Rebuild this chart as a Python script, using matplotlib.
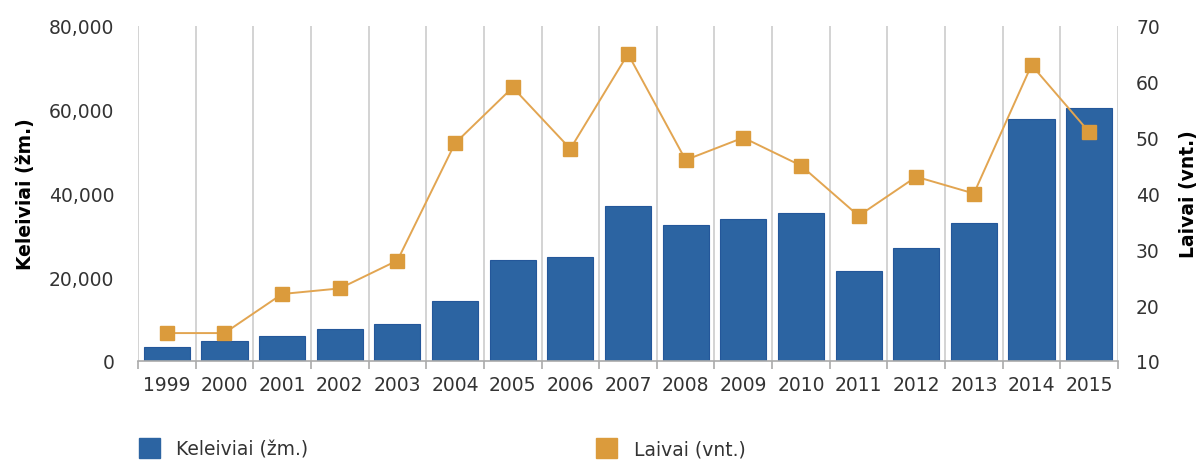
"""Keleiviai ir laivai 1999-2015: stulpeliai + linija su antra ašimi."""
import matplotlib

matplotlib.use("Agg")
import matplotlib.pyplot as plt
import numpy as np
from matplotlib.patches import Patch
from matplotlib.ticker import FuncFormatter, MultipleLocator

years = ["1999", "2000", "2001", "2002", "2003", "2004", "2005", "2006", "2007",
         "2008", "2009", "2010", "2011", "2012", "2013", "2014", "2015"]
passengers = [3400, 4700, 6000, 7600, 8900, 14300, 24100, 24900, 37100,
              32500, 33800, 35400, 21600, 27000, 33000, 57800, 60400]
ships = [15, 15, 22, 23, 28, 49, 59, 48, 65, 46, 50, 45, 36, 43, 40, 63, 51]

BLUE = "#2C64A2"
ORANGE = "#DB9B3C"
TEXT = "#333333"

plt.rcParams["font.family"] = ["DejaVu Sans"]
plt.rcParams["font.size"] = 13.5

fig = plt.figure(figsize=(12.01, 4.64), dpi=100)
ax = fig.add_axes([138 / 1201, 1 - 362 / 464, 980 / 1201, 335 / 464])
ax2 = ax.twinx()

x = np.arange(len(years))
ax.bar(x, passengers, width=0.8, color=BLUE, edgecolor="#24579A", linewidth=0.8, zorder=2)
ax2.plot(x, ships, color="#E2A551", lw=1.4, marker="s", ms=9.5,
         mfc=ORANGE, mec=ORANGE, zorder=3)

ax.set_xlim(-0.5, len(years) - 0.5)
ax.set_ylim(0, 80000)
ax2.set_ylim(10, 70)

ax.set_xticks(x)
ax.set_xticklabels(years)
ax.set_xticks(np.arange(len(years) + 1) - 0.5, minor=True)
ax.tick_params(axis="x", which="major", length=0, pad=10, colors=TEXT)
ax.tick_params(axis="x", which="minor", length=6, width=1.2, color="#AAAAAA")
ax.grid(axis="x", which="minor", color="#CCCCCC", lw=1.2)
ax.set_axisbelow(True)

ax.yaxis.set_major_locator(MultipleLocator(20000))
ax.yaxis.set_major_formatter(FuncFormatter(lambda v, _: f"{v:,.0f}"))
ax.tick_params(axis="y", length=0, pad=17, colors=TEXT)
ax2.yaxis.set_major_locator(MultipleLocator(10))
ax2.tick_params(axis="y", length=0, pad=13, colors=TEXT)

for s in ("left", "right", "top"):
    ax.spines[s].set_visible(False)
for s in ax2.spines.values():
    s.set_visible(False)
ax.spines["bottom"].set_color("#AAAAAA")
ax.spines["bottom"].set_linewidth(1.2)

ax.set_ylabel("Keleiviai (žm.)", fontweight="bold", labelpad=10)
ax2.set_ylabel("Laivai (vnt.)", fontweight="bold", labelpad=14)

legend_kw = dict(frameon=False, handlelength=1.1, handleheight=1.25,
                 handletextpad=0.9, borderaxespad=0, borderpad=0, labelcolor=TEXT)
fig.legend(handles=[Patch(color=BLUE)], labels=["Keleiviai (žm.)"],
           loc="center left", bbox_to_anchor=(139 / 1201, 1 - 449 / 464), **legend_kw)
fig.legend(handles=[Patch(color=ORANGE)], labels=["Laivai (vnt.)"],
           loc="center left", bbox_to_anchor=(596 / 1201, 1 - 449 / 464), **legend_kw)

fig.savefig("out.png", dpi=100)
